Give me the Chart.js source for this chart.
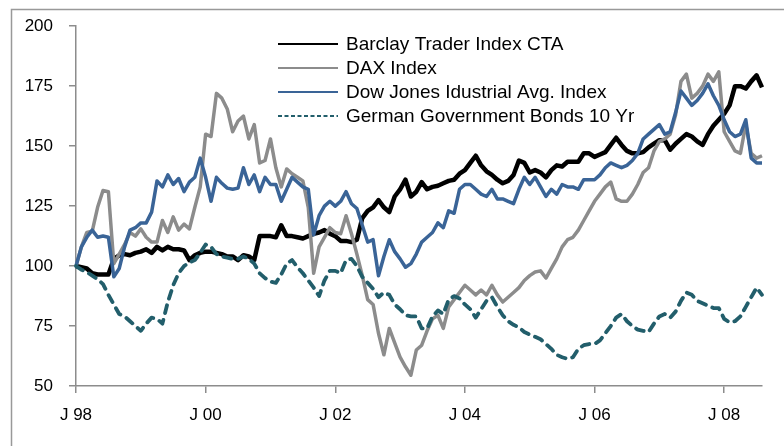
<!DOCTYPE html>
<html>
<head>
<meta charset="utf-8">
<script src="https://cdn.jsdelivr.net/npm/chart.js@4.4.1/dist/chart.umd.min.js"></script>
<style>
  html, body { margin: 0; padding: 0; background: #fff; }
  #wrap { width: 784px; height: 446px; }
</style>
</head>
<body>
<div id="wrap"><canvas id="lineChart" width="784" height="446"></canvas></div>
<script>
// monthly index values, Jan 1998 = 100
var seriesNames = ['Barclay Trader Index CTA', 'DAX Index', 'Dow Jones Idustrial Avg. Index', 'German Government Bonds 10 Yr'];

var barclay = [
    100, 99.5, 99, 97, 96.5, 96.5, 96.5, 103, 104.5, 105,
    104.5, 105.5, 106, 107, 105.5, 108, 106.5, 108, 107, 107,
    106.5, 102.5, 104.5, 105.5, 106, 106, 105.5, 105, 104, 104,
    102.5, 104.5, 104, 102.5, 112.5, 112.5, 112.5, 112, 117, 112.5,
    112.5, 112, 111.5, 112.5, 113.5, 114, 115, 113.5, 112.5, 110.5,
    110.5, 110, 111, 120, 123, 124.5, 127.5, 124.5, 122.5, 129,
    132, 136, 129, 131, 135, 132, 133, 133.5, 134.5, 135.5,
    136, 138.5, 140, 143, 146, 142, 139.5, 138, 136, 134.5,
    135.5, 138, 144, 143, 139, 140, 139, 137, 140, 142,
    141.5, 143.5, 143.5, 143.5, 147, 147, 145.5, 146.5, 147.5, 150.5,
    153.5, 150.5, 148, 147, 147, 147.5, 149.5, 151, 152.5, 152.5,
    148.5, 151, 153, 155, 154, 152, 150.5, 155, 158.5, 161,
    163.5, 167, 175, 175, 174, 177, 179.5, 174.5
];

var dax = [
    100, 108, 114, 114.5, 124.5, 131.5, 131, 101, 105, 109,
    114, 112.5, 115.5, 112, 110, 110, 119, 114, 120.5, 115,
    117.5, 115.5, 124.5, 133, 155, 154, 172, 170, 165.5, 156,
    160.5, 162.5, 153, 159, 143, 144, 153, 141, 133, 140.5,
    138.5, 137, 135.5, 124.5, 97, 108, 112, 116, 114, 113.5,
    121, 113.5, 105, 96, 86, 84, 72, 63, 74, 68,
    62, 58, 54.5, 65, 67, 73, 78, 79.5, 74, 83,
    86, 89, 92, 90, 88, 90, 88, 92, 88, 85,
    87, 89, 91, 94, 96, 97.5, 98, 95, 99, 103,
    108, 111, 112, 115, 119, 123, 127, 130, 133, 135,
    128, 127, 127, 130, 134, 139, 141, 148, 152, 153,
    155, 163, 177, 180, 170, 172, 175, 180, 177, 181,
    156, 152, 148, 147, 159, 147, 145, 146
];

var dow = [
    100, 108, 112, 115, 112, 112.5, 112, 95.5, 99, 108,
    115, 116, 118, 118, 122.5, 135.5, 133, 138, 134, 136.5,
    131, 135, 137, 145, 137, 127, 137, 134.5, 132.5, 132,
    132.5, 141, 134, 138, 131, 137, 134, 134, 127, 132,
    137, 135, 133, 132, 113, 121, 125, 127, 125, 127,
    131, 126, 124, 117, 110, 111, 96, 104, 111, 106,
    103, 99.5, 101, 105, 110, 112, 114, 118, 116, 123,
    122, 132, 134, 134, 132, 130, 129, 132, 128, 128,
    127, 126, 132, 137, 134, 137, 133, 129, 132, 130,
    134, 133, 133, 132, 136, 136, 136, 138, 141, 143,
    142, 141, 142, 144, 147, 153, 155, 157, 159, 155,
    156, 164, 173, 170, 167, 169, 172, 176, 171, 167,
    161, 156, 154, 155, 161, 145, 143, 143
];

var bunds = [
    100, 98.5, 97.5, 96, 94.5, 92.5, 88, 84, 80, 79,
    77, 75, 73, 76, 78.5, 78, 76, 85, 92, 97,
    100, 101.5, 102.5, 105.5, 109, 108, 105, 104, 103.5, 103,
    103, 104, 103, 101, 97, 95, 93.5, 93, 96.5, 101,
    102.5, 99.5, 97, 94, 91, 87.5, 94, 98, 98, 97,
    102.5, 103, 100, 95.5, 93, 90.5, 87, 89, 88, 84,
    82, 79.5, 79, 79, 74, 74, 79, 81.5, 80, 86,
    87.5, 86.5, 84, 82, 78.5, 82, 85.5, 87, 83, 79.5,
    77, 75.5, 74.5, 72.5, 71.5, 70.5, 69.5, 67.5, 65.5, 63,
    62, 61.3, 62, 65.5, 67, 67.5, 67.5, 69, 72, 75,
    78.5, 80, 77, 75, 73.5, 73, 72.5, 76, 79, 80,
    78.5, 81, 85.5, 89, 88, 85.5, 84.5, 83.5, 82.5, 82.5,
    78, 76.5, 77, 79, 83, 87, 91, 88
];

// tick labels shown every second January
var tickLabels = ['J 98', 'J 00', 'J 02', 'J 04', 'J 06', 'J 08'];

// month categories Jan 98 .. Aug 08
var monthInitials = 'JFMAMJJASOND';
var months = [];
for (var n = 0; n < barclay.length; n++) {
    var yr = 1998 + Math.floor(n / 12);
    months.push(monthInitials[n % 12] + ' ' + String(yr).slice(2));
}

var colors = ['#000000', '#8c8c8c', '#3a6497', '#225e6b'];
var FONT = "'Liberation Sans', Arial, sans-serif";

// outer frame + legend drawn by hand (legend sits inside the plot area)
var frameAndLegend = {
    id: 'frameAndLegend',
    beforeDraw: function (chart) {
        var ctx = chart.ctx;
        ctx.save();
        ctx.strokeStyle = '#999999';
        ctx.lineWidth = 1.5;
        ctx.beginPath();
        ctx.moveTo(11.5, 446);
        ctx.lineTo(11.5, 9.5);
        ctx.lineTo(784, 9.5);
        ctx.stroke();
        ctx.restore();
    },
    afterDraw: function (chart) {
        var ctx = chart.ctx;
        ctx.save();
        ctx.font = '19px ' + FONT;
        ctx.textBaseline = 'middle';
        ctx.fillStyle = '#000';
        for (var i = 0; i < seriesNames.length; i++) {
            var y = 44 + i * 24;
            ctx.strokeStyle = colors[i];
            ctx.lineWidth = 2;
            ctx.setLineDash(i === 3 ? [4, 2.5] : []);
            ctx.beginPath();
            ctx.moveTo(278, y);
            ctx.lineTo(338, y);
            ctx.stroke();
            ctx.fillText(seriesNames[i], 346, y + 1);
        }
        ctx.restore();
    }
};

var ctxLine = document.getElementById('lineChart').getContext('2d');
var lineChart = new Chart(ctxLine, {
    type: 'line',
    data: {
        labels: months,
        datasets: [{
            label: seriesNames[0],
            data: barclay,
            borderColor: colors[0],
            borderWidth: 4.5,
            order: 4
        }, {
            label: seriesNames[1],
            data: dax,
            borderColor: colors[1],
            borderWidth: 3.5,
            order: 3
        }, {
            label: seriesNames[2],
            data: dow,
            borderColor: colors[2],
            borderWidth: 3.5,
            order: 2
        }, {
            label: seriesNames[3],
            data: bunds,
            borderColor: colors[3],
            borderWidth: 3.8,
            borderDash: [8, 7],
            borderCapStyle: 'round',
            order: 1
        }]
    },
    options: {
        responsive: false,
        animation: false,
        elements: {
            point: { radius: 0, hoverRadius: 0 },
            line: { tension: 0, borderJoinStyle: 'round', fill: false }
        },
        layout: {
            padding: { top: 26, right: 22, left: 0, bottom: 0 }
        },
        plugins: {
            legend: { display: false },
            tooltip: { enabled: false }
        },
        scales: {
            x: {
                offset: false,
                afterFit: function (s) { s.height = 60; },
                border: { color: '#8c8c8c', width: 1.5 },
                grid: {
                    drawOnChartArea: false,
                    tickLength: 7,
                    color: '#8c8c8c',
                    lineWidth: 1.5
                },
                ticks: {
                    autoSkip: false,
                    maxRotation: 0,
                    padding: 12,
                    color: '#000',
                    font: { family: FONT, size: 17 },
                    callback: function (val, idx) {
                        return idx % 24 === 0 ? tickLabels[idx / 24] : null;
                    }
                }
            },
            y: {
                min: 50,
                max: 200,
                afterFit: function (s) { s.width = 76; },
                border: { color: '#8c8c8c', width: 1.5 },
                grid: {
                    drawOnChartArea: false,
                    tickLength: 7,
                    color: '#8c8c8c',
                    lineWidth: 1.5
                },
                ticks: {
                    stepSize: 25,
                    padding: 16,
                    color: '#000',
                    font: { family: FONT, size: 17 }
                }
            }
        }
    },
    plugins: [frameAndLegend]
});
</script>
</body>
</html>
